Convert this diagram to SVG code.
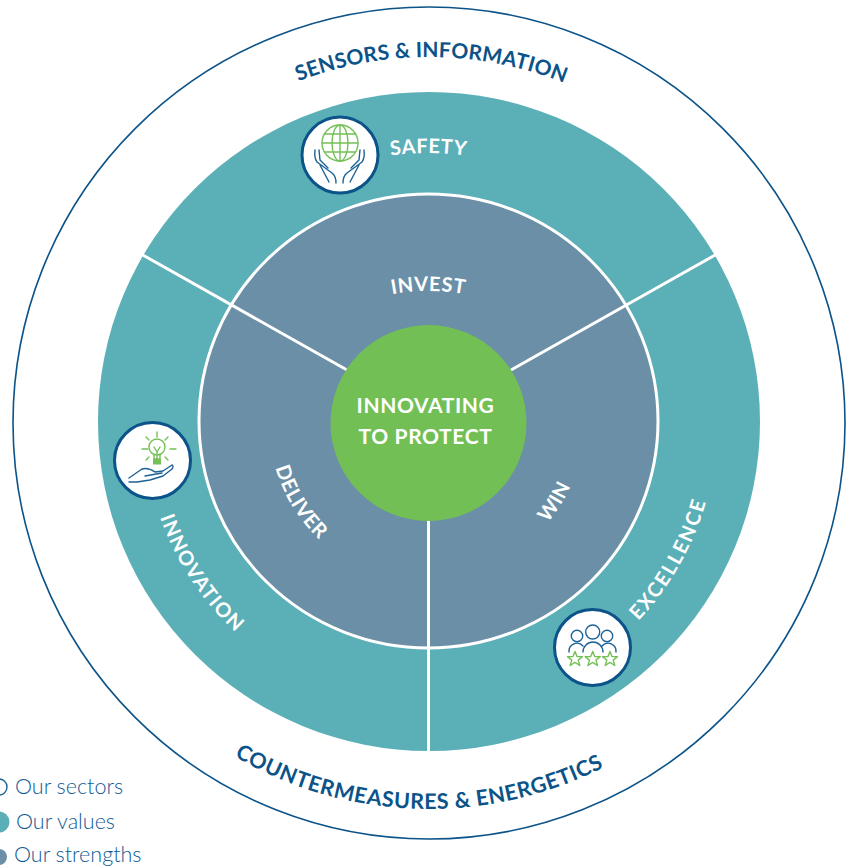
<svg xmlns="http://www.w3.org/2000/svg" width="846" height="867" viewBox="0 0 846 867">
<style>
.lbl{font-family:"Lato","Noto Sans",sans-serif;font-weight:700;fill:#fff;font-size:20px;letter-spacing:.6px}
.ring{font-family:"Lato","Noto Sans",sans-serif;font-weight:700;fill:#0b5388}
.leg{font-family:"Lato","Noto Sans",sans-serif;font-weight:300;fill:#0f5c94;font-size:21.500px}
.b{fill:none;stroke:#1c6396;stroke-width:1.4;stroke-linecap:round;stroke-linejoin:round}
.g{fill:none;stroke:#74c056;stroke-width:1.4;stroke-linecap:round;stroke-linejoin:round}
.badge{fill:#fff;stroke:#0b5388;stroke-width:3}
</style>
<defs>
<path id="pTop" d="M 63 423 a 366 366 0 0 1 732 0"/>
<path id="pBot" d="M 43 423 a 386 386 0 0 0 772 0"/>
<path id="pSafety" d="M 158.500 423 a 270 270 0 0 1 540 0"/>
<path id="pInvest" d="M 228.500 491 a 200 200 0 0 1 400 0"/>
<path id="pInnovation" d="M 144 423 a 285 285 0 0 0 285 285"/>
<path id="pExcellence" d="M 429 711 a 288 288 0 0 0 288 -288"/>
<path id="pDeliver" d="M 269 423 a 160 160 0 0 0 160 160"/>
<path id="pWin" d="M 429 578 a 155 155 0 0 0 155 -155"/>
<polygon id="star" points="0,-7.500 2,-2.400 7.500,-2.300 3.200,1.100 4.800,6.500 0,3.400 -4.800,6.500 -3.200,1.100 -7.500,-2.300 -2,-2.400"/>
</defs>
<g id="sectors"><circle cx="429" cy="423" r="416" fill="#fff" stroke="#0b5388" stroke-width="1.6"/></g>
<g id="values"><ellipse cx="429" cy="421.500" rx="331" ry="329.500" fill="#5bafb7"/></g>
<g id="strengths"><ellipse cx="428.500" cy="421" rx="229.500" ry="227" fill="#6b8fa6" stroke="#fff" stroke-width="3"/></g>
<g id="connectors" stroke="#fff" stroke-width="3" fill="none">
<line x1="347" y1="370" x2="141" y2="254"/>
<line x1="511" y1="370" x2="717" y2="254"/>
<line x1="428.500" y1="520" x2="428.500" y2="752"/>
</g>
<g id="core"><circle cx="428.500" cy="423" r="98" fill="#72bf56"/>
<text class="lbl" x="425.500" y="413" text-anchor="middle" style="font-size:21px">INNOVATING</text>
<text class="lbl" x="425.500" y="444" text-anchor="middle" style="font-size:21px">TO PROTECT</text></g>
<g id="ring-labels">
<text class="ring" style="font-size:21px;letter-spacing:.2px"><textPath href="#pTop" startOffset="577" text-anchor="middle">SENSORS &amp; INFORMATION</textPath></text>
<text class="ring" style="font-size:21.500px;letter-spacing:.55px"><textPath href="#pBot" startOffset="595" text-anchor="middle">COUNTERMEASURES &amp; ENERGETICS</textPath></text>
</g>
<g id="safety">
<circle class="badge" cx="340" cy="155" r="38"/>
<circle class="g" cx="340" cy="143" r="18"/><ellipse class="g" cx="340" cy="143" rx="8" ry="18"/><path class="g" d="M340 125V161M322 143H358M325 134H355M325 152H355"/>
<path class="b" d="M315 150q-1 8 2 12l15 11q4 3 4 10M319 150l1 10 8 8M364 150q1 8-2 12l-15 11q-4 3-4 10M360 150l-1 10-8 8M320 165l9 17M359 165l-9 17"/>
<text class="lbl"><textPath href="#pSafety" startOffset="424" text-anchor="middle">SAFETY</textPath></text>
</g>
<g id="invest"><text class="lbl"><textPath href="#pInvest" startOffset="314" text-anchor="middle">INVEST</textPath></text></g>
<g id="innovation">
<circle class="badge" cx="152.500" cy="460.500" r="38"/>
<circle class="g" cx="157" cy="447" r="8"/><path class="g" d="M154 454v5h6v-5M154 447l3 5 3-5M157 452v6M157 432v5M142 449h6M170 449h6M146 437l3 3M168 437l-3 3M146 460l3-3M168 460l-3-3"/>
<rect x="153" y="459" width="8" height="5.500" fill="#74c056"/>
<path class="b" d="M129 478l13-9q6-2 13 3l8-1 9-6q2 1 0 4l-9 7-13 4-13 2-8 0M145 476l17-3"/>
<text class="lbl" style="letter-spacing:1.300px"><textPath href="#pInnovation" startOffset="96">INNOVATION</textPath></text>
</g>
<g id="deliver"><text class="lbl"><textPath href="#pDeliver" startOffset="88" text-anchor="middle">DELIVER</textPath></text></g>
<g id="win"><text class="lbl"><textPath href="#pWin" startOffset="157" text-anchor="middle">WIN</textPath></text></g>
<g id="excellence">
<circle class="badge" cx="592.500" cy="647.500" r="38"/>
<circle class="b" cx="577" cy="636" r="5.700"/><circle class="b" cx="592.700" cy="632" r="7"/><circle class="b" cx="607" cy="636" r="5.700"/>
<path class="b" d="M569 652a8 8 0 0 1 14-6M583 652a10 10 0 0 1 20 0M602 646a8 8 0 0 1 14 6"/>
<use href="#star" class="g" x="575" y="659"/><use href="#star" class="g" x="592.700" y="659"/><use href="#star" class="g" x="610" y="659"/>
<text class="lbl" style="letter-spacing:1.800px"><textPath href="#pExcellence" startOffset="234">EXCELLENCE</textPath></text>
</g>
<g id="legend">
<circle cx="-1" cy="787" r="8" fill="#fff" stroke="#1c6396" stroke-width="1.4"/>
<text class="leg" x="15" y="794">Our sectors</text>
<circle cx="-1" cy="822" r="10.500" fill="#5bafb7"/>
<text class="leg" x="16" y="829">Our values</text>
<circle cx="-1" cy="857" r="8" fill="#6b8fa6"/>
<text class="leg" x="14" y="862">Our strengths</text>
</g>
</svg>
